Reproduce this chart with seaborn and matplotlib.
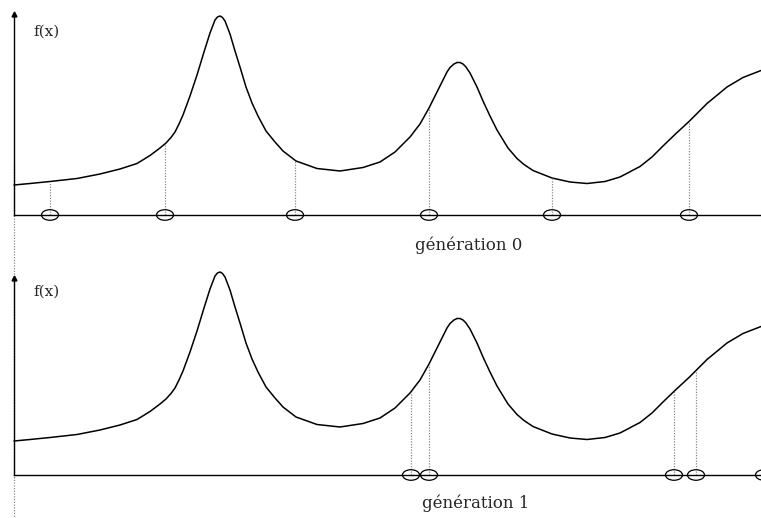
import numpy as np
import pandas as pd
import matplotlib
matplotlib.use("Agg")
import matplotlib.pyplot as plt
from matplotlib.path import Path
import seaborn as sns

# ---- data ----
curve_x = [0, 16, 36, 63, 86, 106, 123, 136, 146, 152, 157, 161, 165, 169, 176, 183, 190,
           196, 201, 203.5, 206, 208.5, 211, 216, 221, 226, 232, 238, 244, 252, 261, 269,
           282, 303, 326, 349, 366, 381, 396, 406, 415, 423, 430, 433, 436, 440, 443, 446,
           449, 452, 456, 463, 469, 476, 483, 494, 503, 510, 519, 538, 556, 573, 591, 606,
           626, 638, 649, 662, 675, 693, 713, 729, 747]
curve_f = [30, 31.5, 33.5, 36.5, 41, 46, 51.5, 59.5, 67, 72, 77.5, 83, 91, 100, 119, 140, 163,
           182, 195, 198, 199, 197.5, 194, 181, 164, 148, 128, 112, 99, 84, 73, 64,
           54, 46.5, 44, 47.5, 53, 63, 78, 91, 107, 123, 137, 143, 147.5, 151, 152.5, 152.5,
           151, 148, 142, 128, 114, 99, 85, 67, 56.5, 50.5, 44.5, 37, 33, 31.5, 33.5, 38,
           48.5, 58, 69, 81.5, 93.5, 111.5, 128, 137.5, 144.5]

gen0_x = [36, 151, 281, 415, 538, 675]
gen0_f = [33.5, 71, 55, 107, 37, 93.5]
gen1_x = [397, 415, 660, 682, 750]
gen1_f = [79, 107, 80, 100, 145]

titles = ["génération 0", "génération 1"]
ylabel = "f(x)"

curve = pd.DataFrame({"x": curve_x, "f": curve_f})

sns.set_theme(style="white")
plt.rcParams["font.family"] = ["DejaVu Serif", "DejaVu Sans"]

W, H = 761, 518
fig = plt.figure(figsize=(W / 100, H / 100), dpi=100)

# ellipse marker (the circles look squashed in the reference)
uc = Path.unit_circle()
ell = Path(uc.vertices * np.array([1.0, 0.62]), uc.codes)

# layout per panel: pixel rows of baseline / axis top, baseline level in f units
panels = [
    dict(base=215, top=14, b0=0, xs=gen0_x, fs=gen0_f, title=titles[0], tx=401, ty=-30),
    dict(base=475, top=278, b0=-4, xs=gen1_x, fs=gen1_f, title=titles[1], tx=408, ty=-32),
]

axes = []
for p in panels:
    hgt = p["base"] - p["top"]
    b0 = p["b0"]
    ax = fig.add_axes([14 / W, (H - p["base"]) / H, 747 / W, hgt / H])
    ax.set_xlim(0, 747)
    ax.set_ylim(b0, b0 + hgt)
    ax.patch.set_alpha(0)
    sns.lineplot(data=curve, x="x", y="f", ax=ax, color="black", lw=1.1, sort=False,
                 solid_joinstyle="round", clip_on=False)
    ax.vlines(p["xs"], b0, p["fs"], colors="#8a8a8a", linestyles=(0, (1, 1.2)), lw=0.9)
    sns.scatterplot(x=p["xs"], y=[b0] * len(p["xs"]), ax=ax, marker=ell, s=150,
                    facecolor="none", edgecolor="black", linewidth=0.9, clip_on=False,
                    zorder=5)
    for s in ["top", "right"]:
        ax.spines[s].set_visible(False)
    for s in ["left", "bottom"]:
        ax.spines[s].set_color("black")
        ax.spines[s].set_linewidth(1.0)
    ax.set_xticks([])
    ax.set_yticks([])
    ax.set_xlabel("")
    ax.set_ylabel("")
    ax.plot([0], [1], marker="^", color="black", markersize=3.5,
            transform=ax.get_xaxis_transform(), clip_on=False)
    ax.text(19, b0 + 183, ylabel, fontsize=11, va="center", ha="left")
    ax.text(p["tx"], p["ty"], p["title"], fontsize=12, va="center", ha="left",
            clip_on=False)
    axes.append(ax)

# long dotted line along the left axis, from the first panel down to the bottom
axes[0].plot([0, 0], [52, -303], color="#8a8a8a", ls=(0, (1, 1.2)), lw=0.9, clip_on=False)

fig.savefig("out.png", dpi=100)
